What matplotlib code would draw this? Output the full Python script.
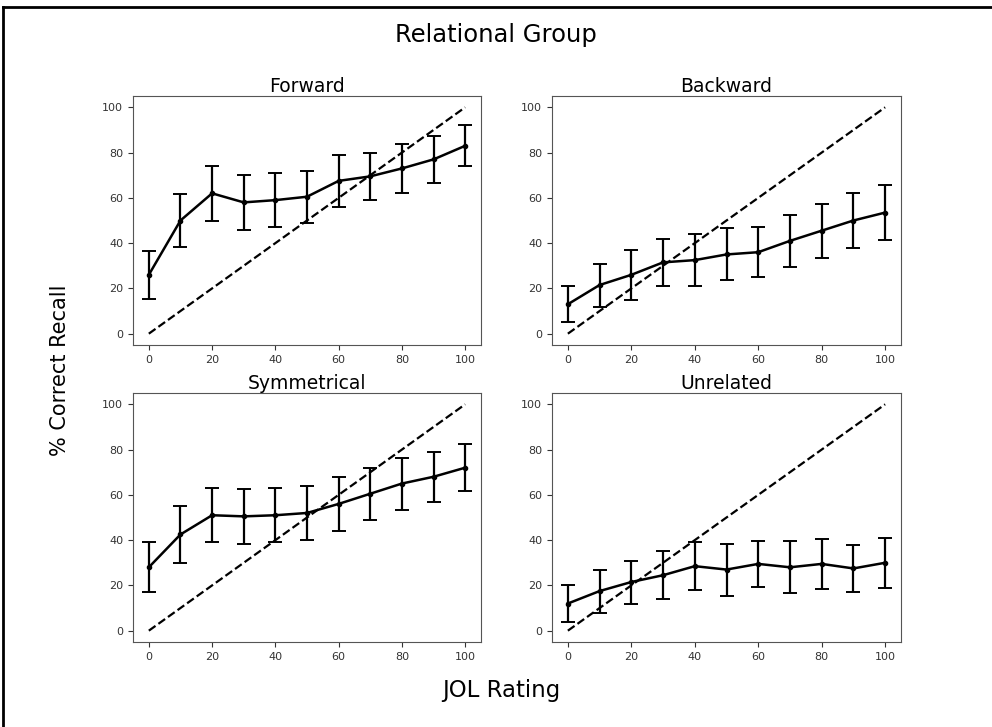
"""
Relational Group: % correct recall vs JOL rating, four pair types.
"""
import matplotlib
matplotlib.use("Agg")
import matplotlib.pyplot as plt
from matplotlib.lines import Line2D

# ── Data ─────────────────────────────────────────────────────────────────────
JOL = [0, 10, 20, 30, 40, 50, 60, 70, 80, 90, 100]

forward_mean = [26, 50, 62, 58, 59, 60.5, 67.5, 69.5, 73, 77, 83]
forward_err  = [10.5, 11.5, 12, 12, 12, 11.5, 11.5, 10.5, 11, 10.5, 9]

backward_mean = [13, 21.5, 26, 31.5, 32.5, 35, 36, 41, 45.5, 50, 53.5]
backward_err  = [8, 9.5, 11, 10.5, 11.5, 11.5, 11, 11.5, 12, 12, 12]

symmetrical_mean = [28, 42.5, 51, 50.5, 51, 52, 56, 60.5, 65, 68, 72]
symmetrical_err  = [11, 12.5, 12, 12, 12, 12, 12, 11.5, 11.5, 11, 10.5]

unrelated_mean = [12, 17.5, 21.5, 24.5, 28.5, 27, 29.5, 28, 29.5, 27.5, 30]
unrelated_err  = [8, 9.5, 9.5, 10.5, 10.5, 11.5, 10, 11.5, 11, 10.5, 11]

PANELS = [
    ("Forward",     forward_mean,     forward_err),
    ("Backward",    backward_mean,    backward_err),
    ("Symmetrical", symmetrical_mean, symmetrical_err),
    ("Unrelated",   unrelated_mean,   unrelated_err),
]

DIAG = [0, 100]

# ── Layout (pixel-matched axes boxes) ────────────────────────────────────────
fig = plt.figure(figsize=(9.92, 7.27), dpi=100)
W, H = 992, 727
boxes = [  # left, top, right, bottom in px
    (133, 96, 481, 345),
    (552, 96, 901, 345),
    (133, 393, 481, 642),
    (552, 393, 901, 642),
]

for (title, mean, err), (l, t, r, b) in zip(PANELS, boxes):
    ax = fig.add_axes([l / W, 1 - b / H, (r - l) / W, (b - t) / H])
    ax.plot(DIAG, DIAG, "k--", linewidth=1.6, zorder=2)
    ax.errorbar(JOL, mean, yerr=err, color="black", linewidth=1.8,
                marker="o", markersize=3, capsize=5, elinewidth=1.6,
                capthick=1.4, zorder=3)
    ax.set_xlim(-5, 105)
    ax.set_ylim(-5, 105)
    ax.set_xticks([0, 20, 40, 60, 80, 100])
    ax.set_yticks([0, 20, 40, 60, 80, 100])
    ax.tick_params(labelsize=8, colors="#333333")
    for sp in ax.spines.values():
        sp.set_color("#555555")
    ax.set_title(title, fontsize=13.5, pad=3)

fig.text(0.500, 1 - 35 / H, "Relational Group", ha="center", va="center",
         fontsize=17.5)
fig.text(0.505, 1 - 690 / H, "JOL Rating", ha="center", va="center",
         fontsize=16.5)
fig.text(60 / W, 1 - 370 / H, "% Correct Recall", ha="center", va="center",
         rotation=90, fontsize=15)

# figure frame (only top and left edges visible in the reference)
fig.add_artist(Line2D([3 / W, 3 / W], [0, 1 - 7 / H], color="black",
                      linewidth=2, transform=fig.transFigure))
fig.add_artist(Line2D([3 / W, 1], [1 - 7 / H, 1 - 7 / H], color="black",
                      linewidth=2, transform=fig.transFigure))

fig.savefig("out.png", dpi=100, facecolor="white")
plt.close(fig)
